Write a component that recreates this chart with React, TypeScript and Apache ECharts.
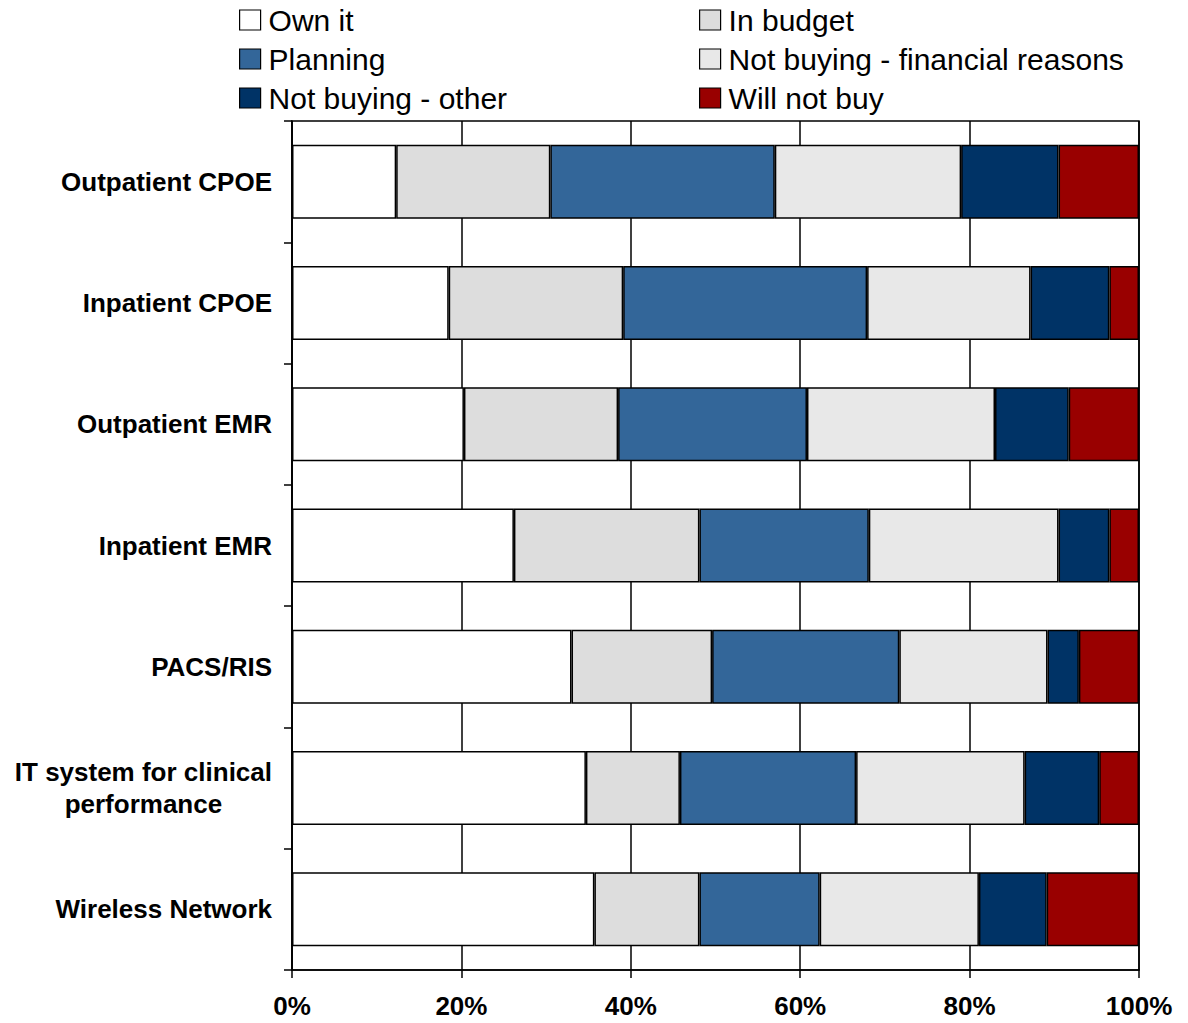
import React, { useEffect, useRef } from "react";
import * as echarts from "echarts";

// Systems surveyed, top to bottom
const categories = [
  "Outpatient CPOE",
  "Inpatient CPOE",
  "Outpatient EMR",
  "Inpatient EMR",
  "PACS/RIS",
  "IT system for clinical\nperformance",
  "Wireless Network",
];

// Share of respondents (%) per purchase status
const ownIt = [12.3, 18.5, 20.3, 26.2, 33.0, 34.7, 35.7];
const inBudget = [18.2, 20.6, 18.2, 21.9, 16.6, 11.1, 12.4];
const planning = [26.5, 28.8, 22.3, 20.0, 22.1, 20.8, 14.2];
const notBuyingFinancial = [22.0, 19.3, 22.2, 22.4, 17.5, 19.9, 18.8];
const notBuyingOther = [11.5, 9.3, 8.7, 6.0, 3.7, 8.8, 8.0];
const willNotBuy = [9.5, 3.5, 8.3, 3.5, 7.1, 4.7, 10.9];

const seriesNames = [
  "Own it",
  "In budget",
  "Planning",
  "Not buying - financial reasons",
  "Not buying - other",
  "Will not buy",
];
const seriesColors = ["#FFFFFF", "#DDDDDD", "#336699", "#E8E8E8", "#003366", "#990000"];
const seriesValues = [ownIt, inBudget, planning, notBuyingFinancial, notBuyingOther, willNotBuy];

const xTicks = [0, 20, 40, 60, 80, 100];

const FONT = "'Liberation Sans', Arial, Helvetica, sans-serif";

export default function App() {
  const ref = useRef<HTMLDivElement>(null);

  useEffect(() => {
    if (!ref.current) return;
    const chart = echarts.init(ref.current, null, { renderer: "svg" });

    const legendCommon = {
      orient: "vertical" as const,
      top: 5,
      padding: 0,
      itemWidth: 21,
      itemHeight: 20,
      itemGap: 9,
      icon: "rect",
      align: "left" as const,
      itemStyle: { borderColor: "#000", borderWidth: 1.2 },
      textStyle: {
        fontFamily: FONT,
        fontSize: 30,
        color: "#000",
        padding: [0, 0, 0, 3],
      },
    };

    chart.setOption({
      animation: false,
      backgroundColor: "#FFFFFF",
      legend: [
        {
          ...legendCommon,
          left: 239,
          data: [seriesNames[0], seriesNames[2], seriesNames[4]],
        },
        {
          ...legendCommon,
          left: 699,
          data: [seriesNames[1], seriesNames[3], seriesNames[5]],
        },
      ],
      grid: {
        left: 292,
        right: 49,
        top: 121,
        bottom: 53,
        show: true,
        borderColor: "#000",
        borderWidth: 1.5,
        backgroundColor: "transparent",
        outerBoundsMode: "none",
      },
      xAxis: {
        type: "value",
        min: xTicks[0],
        max: xTicks[xTicks.length - 1],
        interval: xTicks[1] - xTicks[0],
        axisLine: { show: true, lineStyle: { color: "#000", width: 1.5 } },
        axisTick: { show: true, length: 8, lineStyle: { color: "#000", width: 1.5 } },
        splitLine: { show: true, lineStyle: { color: "#000", width: 1.5 } },
        axisLabel: {
          formatter: "{value}%",
          fontFamily: FONT,
          fontWeight: "bold",
          fontSize: 26,
          color: "#000",
          margin: 23,
        },
      },
      yAxis: {
        type: "category",
        inverse: true,
        data: categories,
        axisLine: { show: true, lineStyle: { color: "#000", width: 1.5 } },
        axisTick: {
          show: true,
          length: 8,
          interval: 0,
          alignWithLabel: false,
          lineStyle: { color: "#000", width: 1.5 },
        },
        axisLabel: {
          margin: 20,
          interval: 0,
          formatter: (v: string) =>
            v
              .split("\n")
              .map((line) => `{c|${line}}`)
              .join("\n"),
          rich: {
            c: {
              align: "center",
              fontFamily: FONT,
              fontWeight: "bold",
              fontSize: 26,
              lineHeight: 32,
              color: "#000",
            },
          },
        },
      },
      series: seriesNames.map((name, i) => ({
        name,
        type: "bar",
        stack: "total",
        barWidth: "61%",
        data: seriesValues[i],
        itemStyle: {
          color: seriesColors[i],
          borderColor: "#000",
          borderWidth: 1.5,
        },
        emphasis: { disabled: true },
      })),
    });

    return () => chart.dispose();
  }, []);

  return (
    <div
      ref={ref}
      style={{ position: "fixed", left: 0, top: 0, width: 1188, height: 1023 }}
    />
  );
}
